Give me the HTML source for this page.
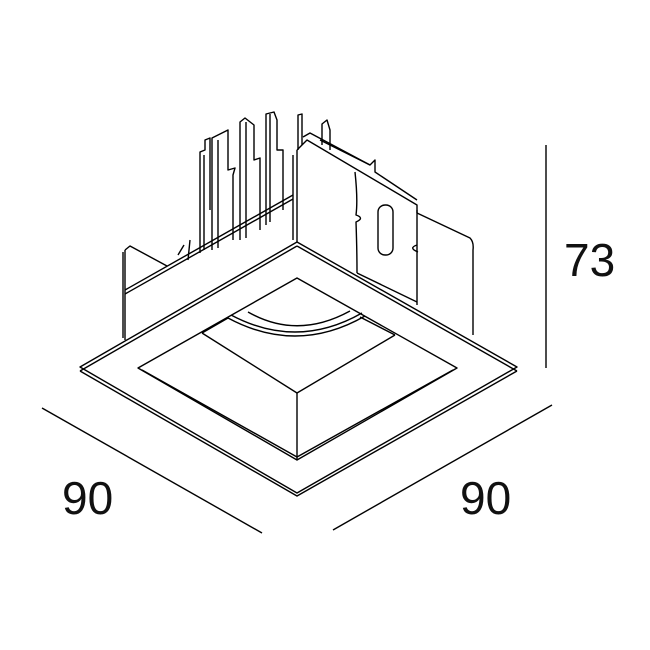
<!DOCTYPE html>
<html><head><style>body{margin:0;background:#fff}svg{display:block}</style></head>
<body>
<svg width="650" height="650" viewBox="0 0 650 650" xmlns="http://www.w3.org/2000/svg">
<g fill="none" stroke="#000" stroke-width="1.4" stroke-linejoin="round">
<line x1="42" y1="408" x2="262" y2="533"/>
<line x1="333" y1="530" x2="552" y2="405"/>
<line x1="546" y1="145" x2="546" y2="368"/>
<path d="M200 253 V152 L205 150 V140 L210 138 V210 M204 250 V155"/>
<path d="M212 250 V138 L228 130 V170 L235 168 L233 175 V240 M218 248 V140"/>
<path d="M240 240 V122 L245 118 L254 125 V160 L260 158 V230 M246 238 V122"/>
<path d="M266 225 V114 L274 112 L277 120 V150 L283 150 V210 M270 222 V114"/>
<path d="M298 150 V115 L302 114 V145"/>
<path d="M322 145 V124 L327 120 L330 130 V150"/>
<path d="M190 240 L188 260 M184 245 L178 255"/>
<path d="M125 290 L293 195"/>
<path d="M125 294 L293 199"/>
<path d="M125 250 V340"/>
<path d="M123 252 V338"/>
<path d="M125 250 L130 246 L167 266"/>
<path d="M297 150 V242"/>
<path d="M293 155 V240"/>
<path d="M297 150 L307 140 L417 205 V213"/>
<path d="M303 137 L310 133 L370 165 L375 160 L375 172 L417 200"/>
<path d="M320 140 L370 165"/>
<path d="M417 213 L470 238 Q474 242 473 250 V335"/>
<path d="M355 172 Q358 200 356 215 Q365 218 356 222 Q357 250 357 273"/>
<path d="M357 273 L417 302"/>
<path d="M417 210 V305"/>
<path d="M417 245 Q408 248 418 252"/>
<rect x="378" y="205" width="15" height="50" rx="7"/>
<path d="M80 367 L297 242 L517 367 L297 493 Z"/>
<path d="M80 371 L297 496 L517 371"/>
<path d="M297 246 L80 371 M297 246 L517 371"/>
<path d="M138 368 L297 278 L457 368 L297 460 Z"/>
<path d="M142 370 L297 457 L453 370"/>
<path d="M202 333 L297 393 L395 335"/>
<path d="M297 393 V460"/>
<path d="M202 333 L228 318"/>
<path d="M395 335 L360 317"/>
<path d="M228 318 Q297 355 365 316"/>
<path d="M231 315 Q297 350 362 313"/>
<path d="M248 312 Q297 340 350 311"/>
</g>
<g font-family="Liberation Sans, sans-serif" font-size="46" fill="#111">
<text x="564" y="276">73</text>
<text x="62" y="514">90</text>
<text x="460" y="514">90</text>
</g>
</svg>
</body></html>
